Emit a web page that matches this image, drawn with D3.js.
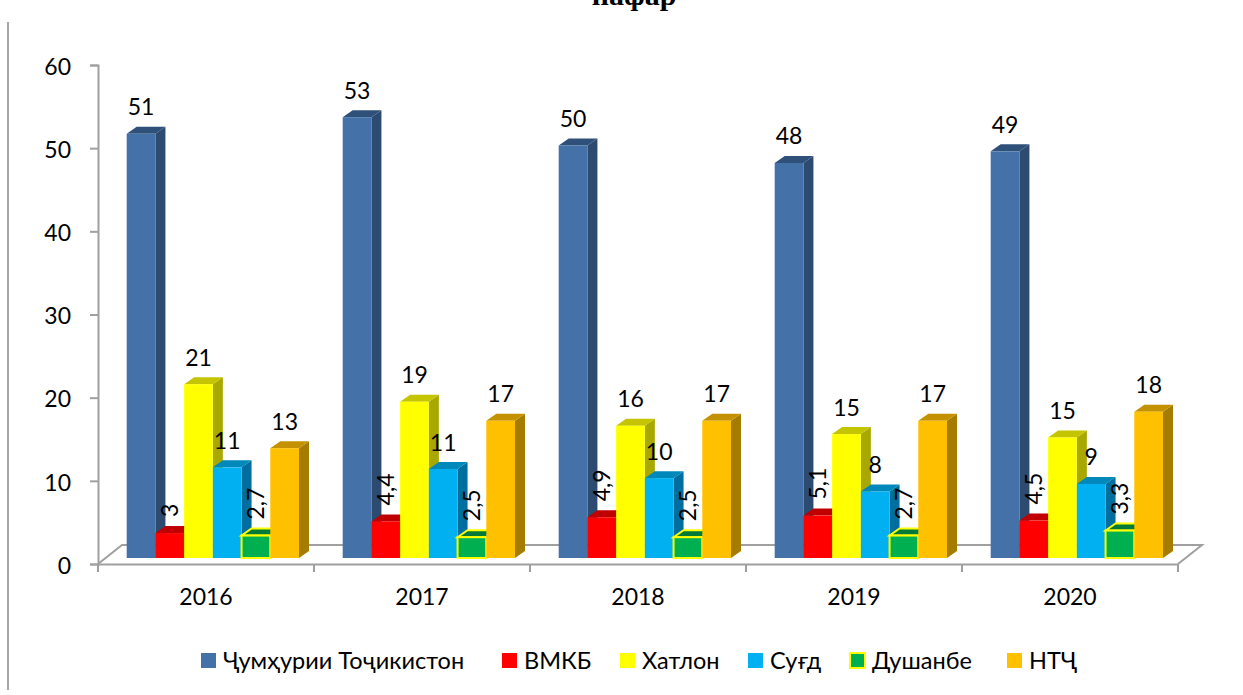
<!DOCTYPE html>
<html>
<head>
<meta charset="utf-8">
<script src="https://cdnjs.cloudflare.com/ajax/libs/d3/7.8.5/d3.min.js"></script>
<style>
    html, body { margin: 0; padding: 0; background: #fff; overflow: hidden; }
    svg { display: block; }
    text { font-family: Lato, "Open Sans", sans-serif; fill: #000; }
    .axis path, .axis line { stroke: #a0a0a0; stroke-width: 2; }
    .axis text { font-size: 23px; }
</style>
</head>
<body>
<svg id="chart" width="1243" height="695"></svg>
<script>
// values
var years = ["2016", "2017", "2018", "2019", "2020"];
var seriesNames = ["Ҷумҳурии Тоҷикистон", "ВМКБ", "Хатлон", "Суғд", "Душанбе", "НТҶ"];
var tojikiston = [51, 53, 49.6, 47.5, 48.9];
var vmkb = [3, 4.4, 4.9, 5.1, 4.5];
var khatlon = [20.9, 18.8, 15.9, 14.9, 14.5];
var sughd = [10.9, 10.7, 9.6, 8, 8.9];
var dushanbe = [2.7, 2.5, 2.5, 2.7, 3.3];
var ntj = [13.2, 16.5, 16.5, 16.5, 17.6];
var yTicks = [0, 10, 20, 30, 40, 50, 60];

var seriesValues = [tojikiston, vmkb, khatlon, sughd, dushanbe, ntj];
var frontColors = ["#4472a8", "#ff0000", "#ffff00", "#00b0f0", "#00b050", "#ffc000"];
var topColors = ["#2f5079", "#c00000", "#c4c400", "#0088bb", "#007a38", "#c49200"];
var sideColors = ["#2d4a70", "#a00000", "#a8a800", "#006f9f", "#006b30", "#a67c00"];
var legendX = [201, 502, 620, 748, 850, 1007];

var svg = d3.select("#chart");

var x0 = d3.scaleBand().domain(years).range([98, 1178]);
var x1 = d3.scaleBand().domain(d3.range(6)).range([28.7, 201]);
var y = d3.scaleLinear().domain([0, 60]).range([564, 65]);

var depthX = 10, depthY = 7;   // 3d offset of the columns
var floorX = 24, floorY = 19;  // 3d offset of the floor
var baseShift = 6;             // column foot sits above the front floor edge

// page rule on the left
svg.append("line")
    .attr("x1", 8).attr("x2", 8)
    .attr("y1", 22).attr("y2", 690)
    .attr("stroke", "#a6a6a6").attr("stroke-width", 2);

// title is cut by the top of the page
svg.append("text")
    .attr("x", 634).attr("y", 5)
    .attr("text-anchor", "middle")
    .style("font-family", "'Liberation Serif', serif")
    .style("font-weight", "bold")
    .style("font-size", "30px")
    .text("нафар");

// floor
var x_l = x0.range()[0], x_r = x0.range()[1], yz = y(0);
svg.append("polyline")
    .attr("points", [[x_l, yz], [x_l + floorX, yz - floorY], [x_r + floorX, yz - floorY], [x_r, yz]].join(" "))
    .attr("fill", "none")
    .attr("stroke", "#a0a0a0")
    .attr("stroke-width", 2);

// axes
svg.append("g")
    .attr("class", "axis")
    .attr("transform", "translate(" + x_l + ",0)")
    .call(d3.axisLeft(y).tickValues(yTicks).tickSize(8).tickPadding(19))
    .selectAll("text")
    .attr("dy", "0.4em");

var xAxis = d3.axisBottom(x0).tickSize(0).tickPadding(25);
var xg = svg.append("g")
    .attr("class", "axis")
    .attr("transform", "translate(0," + yz + ")")
    .call(xAxis);
xg.selectAll("g.edge")
    .data(d3.range(6))
    .enter().append("line")
    .attr("x1", function (d) { return x_l + d * x0.bandwidth(); })
    .attr("x2", function (d) { return x_l + d * x0.bandwidth(); })
    .attr("y1", 0).attr("y2", 8);

// columns
function labelText(v) {
    return v >= 6 ? String(Math.round(v)) : String(v).replace(".", ",");
}

var bars = [];
years.forEach(function (yr, i) {
    seriesValues.forEach(function (vals, s) {
        bars.push({ year: yr, s: s, v: vals[i] });
    });
});

var bar = svg.append("g").selectAll("g")
    .data(bars)
    .enter().append("g");

bar.each(function (d) {
    var g = d3.select(this),
        left = x0(d.year) + x1(d.s),
        w = x1.bandwidth(),
        foot = yz - baseShift,
        top = y(d.v) - baseShift;

    g.append("polygon")
        .attr("points", [[left + w, top], [left + w + depthX, top - depthY], [left + w + depthX, foot - depthY], [left + w, foot]].join(" "))
        .attr("fill", sideColors[d.s]);
    g.append("polygon")
        .attr("points", [[left, top], [left + depthX, top - depthY], [left + w + depthX, top - depthY], [left + w, top]].join(" "))
        .attr("fill", topColors[d.s]);
    g.append("rect")
        .attr("x", left).attr("y", top)
        .attr("width", w).attr("height", foot - top)
        .attr("fill", frontColors[d.s]);

    // Душанбе columns have the yellow outline
    if (d.s === 4) {
        g.selectAll("*")
            .attr("stroke", "#ffff00")
            .attr("stroke-width", 2);
    }
});

// value labels, short columns get theirs rotated
svg.append("g").selectAll("text")
    .data(bars)
    .enter().append("text")
    .style("font-size", "23px")
    .attr("text-anchor", function (d) { return d.v < 6 ? "start" : "middle"; })
    .attr("transform", function (d) {
        var cx = x0(d.year) + x1(d.s) + x1.bandwidth() / 2,
            back = y(d.v) - baseShift - depthY;
        if (d.v < 6) return "translate(" + (cx + 8.5) + "," + (back - 9) + ") rotate(-90)";
        return "translate(" + cx + "," + (back - 11.5) + ")";
    })
    .text(function (d) { return labelText(d.v); });

// legend
var legend = svg.append("g").selectAll("g")
    .data(seriesNames)
    .enter().append("g")
    .attr("transform", function (d, i) { return "translate(" + legendX[i] + ",653)"; });

legend.append("rect")
    .attr("width", 15).attr("height", 15)
    .attr("fill", function (d, i) { return frontColors[i]; })
    .attr("stroke", function (d, i) { return i === 4 ? "#ffff00" : "none"; })
    .attr("stroke-width", 2);

legend.append("text")
    .attr("x", 22).attr("y", 16)
    .style("font-size", "23.5px")
    .text(function (d) { return d; });
</script>
</body>
</html>
